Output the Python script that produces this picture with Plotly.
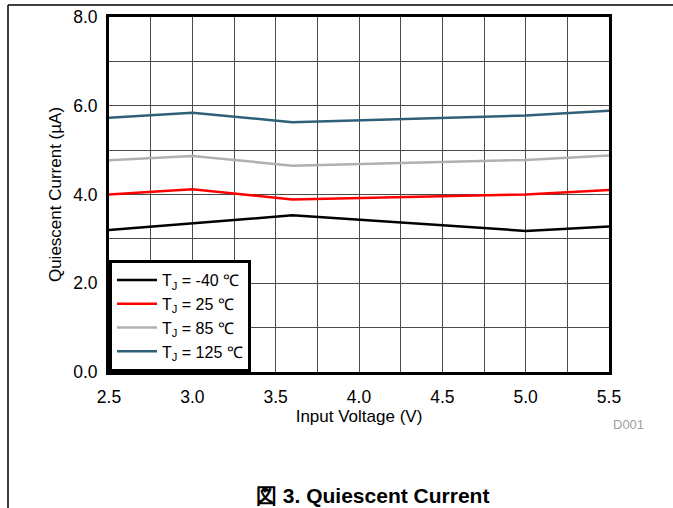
import plotly.graph_objects as go

voltage = [2.5, 3.0, 3.6, 5.0, 5.5]
iq_m40 = [3.20, 3.35, 3.53, 3.18, 3.28]
iq_25 = [4.00, 4.12, 3.89, 4.00, 4.10]
iq_85 = [4.77, 4.87, 4.65, 4.78, 4.88]
iq_125 = [5.73, 5.84, 5.63, 5.78, 5.89]

series_names = ["T<sub>J</sub> = -40 ℃", "T<sub>J</sub> = 25 ℃", "T<sub>J</sub> = 85 ℃", "T<sub>J</sub> = 125 ℃"]
series_vals = [iq_m40, iq_25, iq_85, iq_125]
colors = ["#000000", "#FF0000", "#B0B0B0", "#2E6179"]

x_ticks = [2.5, 3.0, 3.5, 4.0, 4.5, 5.0, 5.5]
y_ticks = [0.0, 2.0, 4.0, 6.0, 8.0]

FONT = "Liberation Sans, Arial, sans-serif"

fig = go.Figure()
for name, vals, c in zip(series_names, series_vals, colors):
    fig.add_trace(go.Scatter(x=voltage, y=vals, mode="lines", name=name,
                             line=dict(color=c, width=2.5)))

fig.update_layout(
    width=673, height=508,
    margin=dict(l=109, r=64, t=17, b=136, autoexpand=False),
    paper_bgcolor="white", plot_bgcolor="white",
    font=dict(family=FONT, size=17, color="black"),
    showlegend=True,
    legend=dict(x=0, y=0, xanchor="left", yanchor="bottom",
                bgcolor="white", bordercolor="black", borderwidth=3,
                font=dict(size=16, family=FONT), tracegroupgap=0,
                itemwidth=40),
    xaxis=dict(range=[2.5, 5.5], tickvals=x_ticks,
               ticktext=[f"{v:.1f}" for v in x_ticks], automargin=False,
               showgrid=True, gridcolor="#4a4a4a", gridwidth=1,
               showline=True, linecolor="black", linewidth=3, mirror=True,
               zeroline=False, ticks="", ticklabelstandoff=7,
               tickfont=dict(size=17.5, family=FONT),
               title=dict(text="Input Voltage (V)", standoff=3,
                          font=dict(size=17, family=FONT))),
    yaxis=dict(range=[0, 8], tickvals=y_ticks,
               ticktext=[f"{v:.1f}" for v in y_ticks], automargin=False,
               showgrid=True, gridcolor="#4a4a4a", gridwidth=1,
               showline=True, linecolor="black", linewidth=3, mirror=True,
               zeroline=False, ticks="", ticklabelstandoff=5,
               tickfont=dict(size=17.5, family=FONT),
               title=dict(text="Quiescent Current (µA)", standoff=8,
                          font=dict(size=17, family=FONT))),
)

fig.update_xaxes(minor=dict(dtick=0.25, showgrid=True, gridcolor="#4a4a4a", gridwidth=1))
fig.update_yaxes(minor=dict(dtick=1, showgrid=True, gridcolor="#4a4a4a", gridwidth=1))

# page frame lines
fig.add_shape(type="line", xref="paper", yref="paper",
              x0=-0.202, x1=1.13, y0=1.0338, y1=1.0338,
              line=dict(color="black", width=1.5))
fig.add_shape(type="line", xref="paper", yref="paper",
              x0=-0.202, x1=-0.202, y0=1.0338, y1=-0.39,
              line=dict(color="black", width=1.5))

fig.add_annotation(text="D001", xref="paper", yref="paper", x=1.038, y=-0.147,
                   showarrow=False, xanchor="center", yanchor="middle",
                   font=dict(size=13, color="#A0A0A0", family=FONT))
fig.add_annotation(text="<b>図 3. Quiescent Current</b>", xref="paper", yref="paper",
                   x=0.526, y=-0.349, showarrow=False, xanchor="center", yanchor="middle",
                   font=dict(size=21, color="black", family=FONT))

fig.write_html("out.html")
